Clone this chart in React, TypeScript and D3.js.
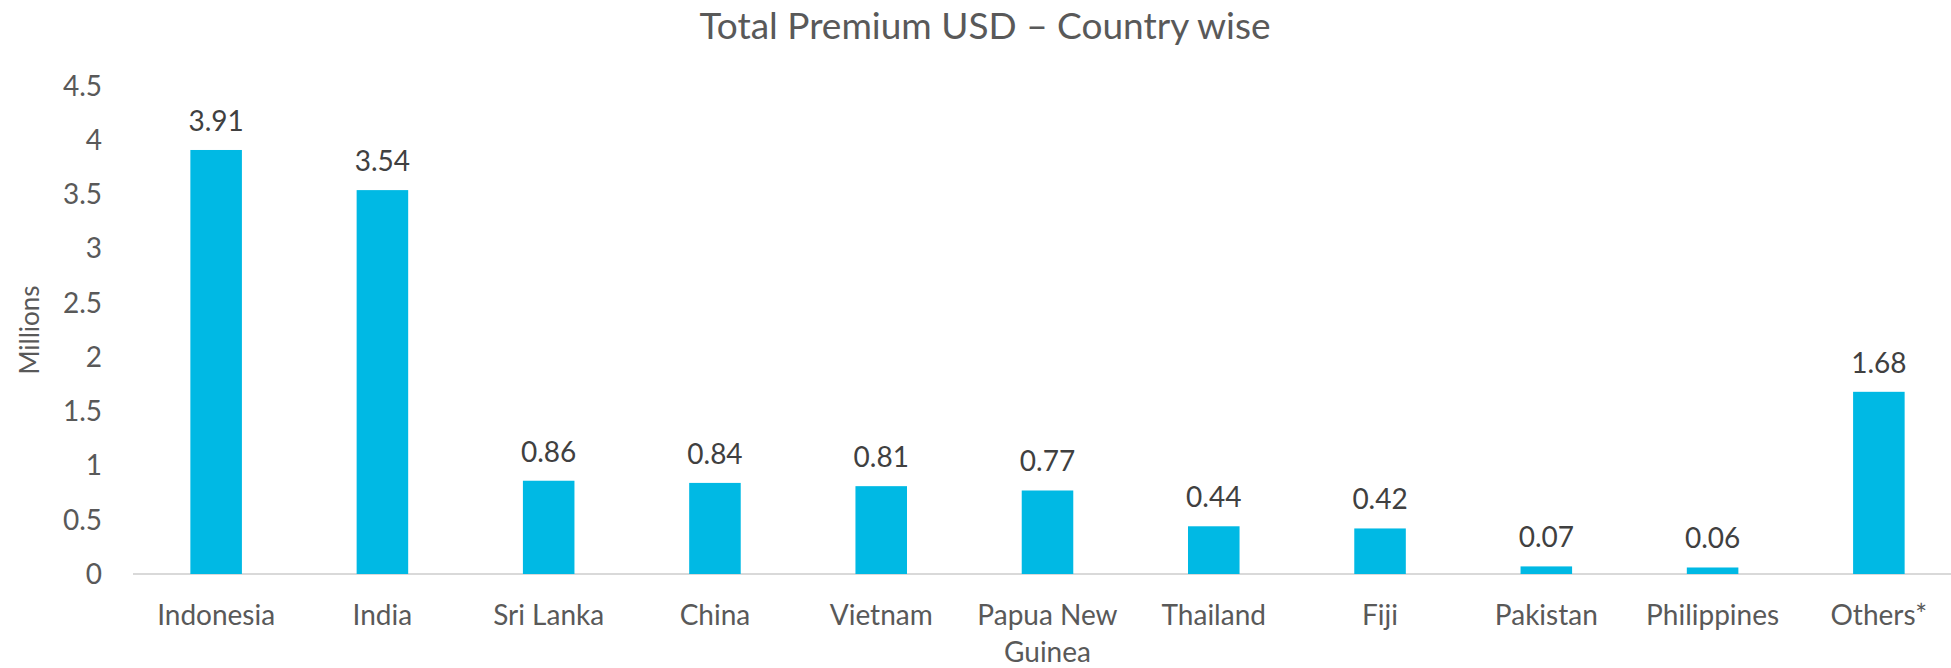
import React from "react";
import * as d3 from "d3";

const countries = ["Indonesia", "India", "Sri Lanka", "China", "Vietnam", "Papua New Guinea", "Thailand", "Fiji", "Pakistan", "Philippines", "Others*"];
const premiumMillions = [3.91, 3.54, 0.86, 0.84, 0.81, 0.77, 0.44, 0.42, 0.07, 0.06, 1.68];
const yTicks = [0, 0.5, 1, 1.5, 2, 2.5, 3, 3.5, 4, 4.5];
// wrapped category labels as they appear under the axis
const xLabelLines: Record<string, string[]> = {
  "Papua New Guinea": ["Papua New", "Guinea"],
};

const W = 1951;
const H = 668;
const FONT = "Lato, 'Noto Sans', sans-serif";

export default function App() {
  const x = d3.scaleBand<string>()
    .domain(countries)
    .range([133, 1962])
    .paddingInner(0.69)
    .paddingOuter(0.345);

  const y = d3.scaleLinear()
    .domain([0, 4.5])
    .range([574, 86]);

  return (
    <svg width={W} height={H} style={{ display: "block", position: "absolute", left: 0, top: 0, background: "#fff" }}>
      <text x={985} y={39} textAnchor="middle" fontFamily={FONT} fontSize={37} fill="#595959">
        Total Premium USD – Country wise
      </text>

      {yTicks.map(t => (
        <text key={t} x={102} y={y(t)} dy="0.35em" textAnchor="end" fontFamily={FONT} fontSize={28} fill="#595959">
          {t}
        </text>
      ))}

      <text transform={`translate(30,330) rotate(-90)`} textAnchor="middle" dy="0.35em" fontFamily={FONT} fontSize={26} fill="#595959">
        Millions
      </text>

      <line x1={133} x2={W} y1={y(0)} y2={y(0)} stroke="#D9D9D9" strokeWidth={2} />

      {countries.map((c, i) => {
        const v = premiumMillions[i];
        const bx = x(c) ?? 0;
        const cx = bx + x.bandwidth() / 2;
        const lines = xLabelLines[c] ?? [c];
        return (
          <g key={c}>
            <rect x={bx} y={y(v)} width={x.bandwidth()} height={y(0) - y(v)} fill="#00B9E4" />
            <text x={cx} y={y(v) - 19} textAnchor="middle" fontFamily={FONT} fontSize={28} fill="#404040">
              {v.toFixed(2)}
            </text>
            {lines.map((ln, j) => (
              <text key={j} x={cx} y={615 + j * 37} dy="0.35em" textAnchor="middle" fontFamily={FONT} fontSize={28} fill="#595959">
                {ln}
              </text>
            ))}
          </g>
        );
      })}
    </svg>
  );
}
